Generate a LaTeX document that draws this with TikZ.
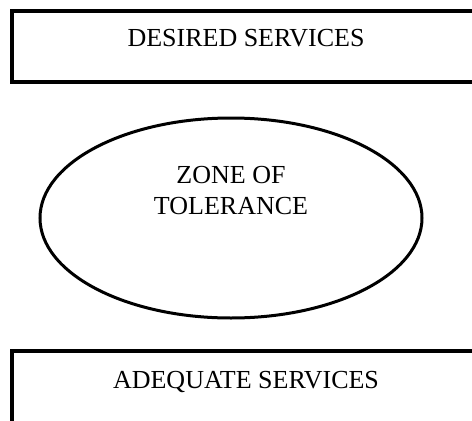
\documentclass[tikz,border=0pt]{standalone}
\usepackage{fontspec}
\setmainfont{Liberation Serif}
\usetikzlibrary{shapes.geometric}

\tikzset{
  servicebox/.style={draw, line width=3.5pt, minimum width=468pt, inner sep=0pt},
  zone/.style={draw, ellipse, line width=3pt, minimum width=382pt, minimum height=200pt, inner sep=0pt},
  caption/.style={font=\fontsize{26}{31}\selectfont, align=center, inner sep=0pt}
}

\begin{document}
\begin{tikzpicture}[x=1pt,y=-1pt]

    \clip (0,0) rectangle (472,421);

    \node[servicebox, minimum height=71pt] (desired) at (246,46.5) {};
    \node[servicebox, minimum height=100pt] (adequate) at (246,401) {};
    \node[zone] (tolerance) at (231,218) {};

    \node[caption, anchor=base] (desiredtext) at (246,46) {DESIRED SERVICES};
    \node[caption, anchor=base] (zonetext) at (231,214) {ZONE OF\\TOLERANCE};
    \node[caption, anchor=base] (adequatetext) at (246,388) {ADEQUATE SERVICES};

\end{tikzpicture}
\end{document}
